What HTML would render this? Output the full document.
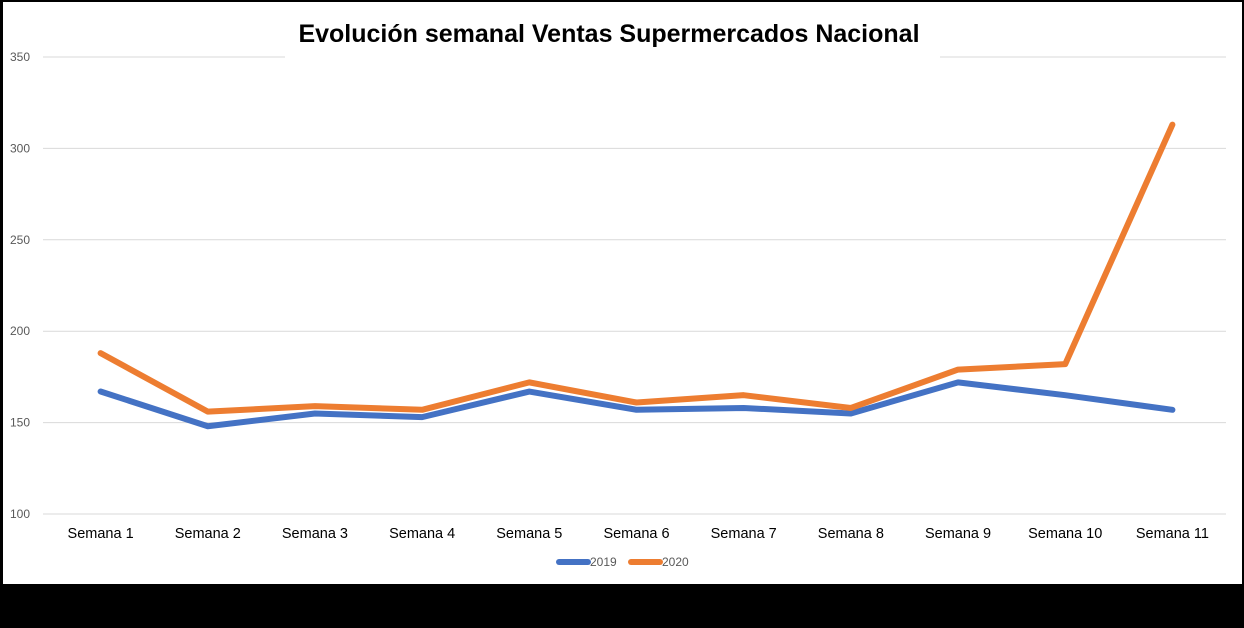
<!DOCTYPE html>
<html><head><meta charset="utf-8"><style>
body{margin:0;background:#000;width:1244px;height:628px;overflow:hidden;font-family:"Liberation Sans",sans-serif}
svg{display:block}
</style></head><body>
<svg width="1244" height="628">
<rect x="0" y="0" width="1244" height="628" fill="#000"/>
<rect x="3" y="2" width="1239" height="582" fill="#fff"/>
<g id="grid"></g>
<rect x="285" y="40" width="655" height="30" fill="#fff"/>
<text x="609" y="42" text-anchor="middle" font-size="25" font-weight="bold" fill="#000">Evolución semanal Ventas Supermercados Nacional</text>
<g id="xl"></g>
<g id="lines"></g>
<g>
<line x1="559" y1="562" x2="588" y2="562" stroke="#4472C4" stroke-width="6" stroke-linecap="round"/>
<text x="590" y="566" font-size="12" fill="#595959">2019</text>
<line x1="631" y1="562" x2="660" y2="562" stroke="#ED7D31" stroke-width="6" stroke-linecap="round"/>
<text x="662" y="566" font-size="12" fill="#595959">2020</text>
</g>
</svg>
<script>
const categories=["Semana 1","Semana 2","Semana 3","Semana 4","Semana 5","Semana 6","Semana 7","Semana 8","Semana 9","Semana 10","Semana 11"];
const values2019=[167,148,155,153,167,157,158,155,172,165,157];
const values2020=[188,156,159,157,172,161,165,158,179,182,313];
const yTicks=[100,150,200,250,300,350];
const NS="http://www.w3.org/2000/svg";
const x0=47,x1=1226,yTop=57,yBot=514,vMin=100,vMax=350;
const band=(x1-x0)/categories.length;
const xs=i=>x0+band*(i+0.5);
const ys=v=>yBot-(v-vMin)/(vMax-vMin)*(yBot-yTop);
const grid=document.getElementById('grid');
yTicks.forEach(t=>{
 const l=document.createElementNS(NS,'line');
 l.setAttribute('x1',x0-4);l.setAttribute('x2',x1);l.setAttribute('y1',ys(t));l.setAttribute('y2',ys(t));
 l.setAttribute('stroke','#d9d9d9');l.setAttribute('stroke-width','1');
 
 
 grid.appendChild(l);
 const tx=document.createElementNS(NS,'text');
 tx.setAttribute('x',10);tx.setAttribute('y',ys(t)+4);tx.setAttribute('font-size','12');tx.setAttribute('fill','#595959');
 tx.textContent=t;
 
 
 grid.appendChild(tx);
});
const xl=document.getElementById('xl');
categories.forEach((c,i)=>{
 const tx=document.createElementNS(NS,'text');
 tx.setAttribute('x',xs(i));tx.setAttribute('y',538);tx.setAttribute('text-anchor','middle');
 tx.setAttribute('font-size','14.5');tx.setAttribute('fill','#000');
 tx.textContent=c;
 
 
 xl.appendChild(tx);
});
const lines=document.getElementById('lines');
[[values2019,'#4472C4','line-2019'],[values2020,'#ED7D31','line-2020']].forEach(([vals,col,name])=>{
 const p=document.createElementNS(NS,'polyline');
 p.setAttribute('points',vals.map((v,i)=>xs(i)+','+ys(v)).join(' '));
 p.setAttribute('fill','none');p.setAttribute('stroke',col);p.setAttribute('stroke-width','6');
 p.setAttribute('stroke-linecap','round');p.setAttribute('stroke-linejoin','round');
 
 
 lines.appendChild(p);
});
</script>
</body></html>
